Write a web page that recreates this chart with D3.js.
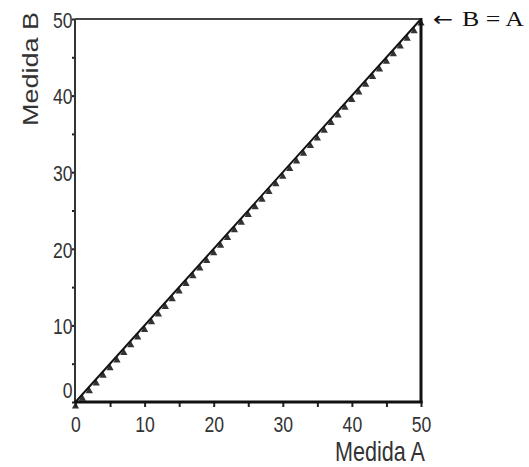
<!DOCTYPE html>
<html lang="en">
<head>
    <meta charset="UTF-8">
    <title>Medida A vs Medida B</title>
    <script src="https://d3js.org/d3.v7.min.js"></script>
    <style>
        body { margin: 0; background: white; }
        svg { display: block; }
        .tick text { font-family: 'Liberation Sans', Arial, sans-serif; font-size: 22px; fill: #333; }
        .title { font-family: 'Liberation Sans', Arial, sans-serif; font-size: 27px; fill: #333; }
        .note { font-family: 'Liberation Serif', 'Times New Roman', serif; font-size: 21px; fill: #111; }
        .arrow { font-family: 'DejaVu Sans', sans-serif; font-size: 20px; fill: #111; }
    </style>
</head>
<body>
    <svg width="529" height="467"></svg>
    <script>
        // data: both measures, one point per unit
        const medidaA = [0,1,2,3,4,5,6,7,8,9,10,11,12,13,14,15,16,17,18,19,20,21,22,23,24,25,
                         26,27,28,29,30,31,32,33,34,35,36,37,38,39,40,41,42,43,44,45,46,47,48,49,50];
        const medidaB = [0,1,2,3,4,5,6,7,8,9,10,11,12,13,14,15,16,17,18,19,20,21,22,23,24,25,
                         26,27,28,29,30,31,32,33,34,35,36,37,38,39,40,41,42,43,44,45,46,47,48,49,50];
        const identityLine = [0, 50];           // B = A reference
        const tickValues = [0,5,10,15,20,25,30,35,40,45,50];
        const tickLabels = [0,10,20,30,40,50];

        const svg = d3.select("svg");
        const squeeze = 0.8; // the original picture is narrowed horizontally

        const x = d3.scaleLinear().domain([0, 50]).range([75.5, 421]);
        const y = d3.scaleLinear().domain([0, 50]).range([402, 19]);

        // triangles, anchored by their apex
        const tri = "M0,0 L3.6,6.5 L-3.6,6.5 Z";
        svg.append("g").selectAll("path")
            .data(medidaA.map((a, i) => [a, medidaB[i]]))
            .enter().append("path")
            .attr("d", tri)
            .attr("transform", d => `translate(${x(d[0])},${y(d[1])})`)
            .attr("fill", "#333");

        // B = A line
        svg.append("line")
            .attr("x1", x(identityLine[0])).attr("y1", y(identityLine[0]))
            .attr("x2", x(identityLine[1])).attr("y2", y(identityLine[1]))
            .attr("stroke", "#111").attr("stroke-width", 2);

        const fmt = d => tickLabels.includes(d) ? d : "";

        // y axis
        const yAxis = svg.append("g")
            .attr("transform", "translate(75,0)")
            .call(d3.axisLeft(y).tickValues(tickValues).tickSize(3).tickFormat(fmt));
        yAxis.select(".domain").remove();
        yAxis.selectAll(".tick line").attr("stroke", "#222").attr("stroke-width", 2);
        yAxis.selectAll(".tick text")
            .attr("x", -2.5 / squeeze)
            .attr("dy", d => d === 0 ? "-0.2em" : "0.38em")
            .attr("transform", `scale(${squeeze},1)`);

        // x axis
        const xAxis = svg.append("g")
            .attr("transform", "translate(0,402)")
            .call(d3.axisBottom(x).tickValues(tickValues).tickSize(5).tickFormat(fmt));
        xAxis.select(".domain").remove();
        xAxis.selectAll(".tick line").attr("stroke", "#222").attr("stroke-width", 2);
        xAxis.selectAll(".tick text")
            .attr("x", 0).attr("y", 14).attr("dy", "0.71em")
            .attr("transform", `scale(${squeeze},1)`);

        // frame
        svg.append("line").attr("x1", 75).attr("x2", 75).attr("y1", 19).attr("y2", 403)
            .attr("stroke", "#333").attr("stroke-width", 2);
        svg.append("line").attr("x1", 75).attr("x2", 421).attr("y1", 19).attr("y2", 19)
            .attr("stroke", "#444").attr("stroke-width", 2);
        svg.append("line").attr("x1", 74).attr("x2", 422.5).attr("y1", 402).attr("y2", 402)
            .attr("stroke", "#111").attr("stroke-width", 3);
        svg.append("line").attr("x1", 421).attr("x2", 421).attr("y1", 18).attr("y2", 403)
            .attr("stroke", "#111").attr("stroke-width", 3);

        // axis titles
        svg.append("text").attr("class", "title")
            .attr("text-anchor", "end")
            .attr("transform", `translate(425,461) scale(${squeeze},1)`)
            .text("Medida A");
        svg.append("text").attr("class", "title")
            .attr("text-anchor", "middle")
            .attr("transform", `translate(38,69) rotate(-90) scale(1,${squeeze})`)
            .text("Medida B");

        // label for the reference line
        svg.append("text").attr("class", "arrow")
            .attr("x", 433).attr("y", 26)
            .attr("textLength", 20).attr("lengthAdjust", "spacingAndGlyphs")
            .text("\u2190");
        svg.append("text").attr("class", "note")
            .attr("x", 462).attr("y", 26)
            .attr("textLength", 62).attr("lengthAdjust", "spacingAndGlyphs")
            .text("B = A");
    </script>
</body>
</html>
